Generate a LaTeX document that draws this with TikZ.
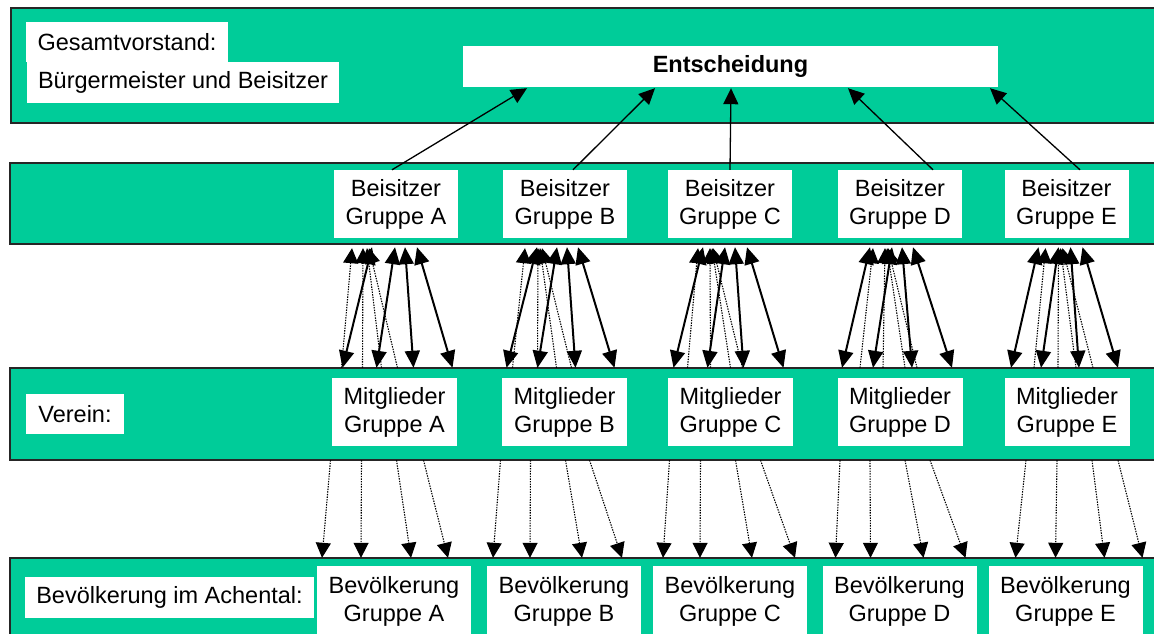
\documentclass[tikz,border=0pt]{standalone}
\usepackage{fontspec}
\setmainfont{Liberation Sans}
\usetikzlibrary{arrows.meta,calc}
\definecolor{bandgreen}{RGB}{0,204,153}
\begin{document}
\begin{tikzpicture}[x=1pt,y=-1pt,
  bandbox/.style={draw=black!85, line width=1.4pt, fill=bandgreen},
  wbox/.style={fill=white, inner sep=0pt, align=center, font=\fontsize{23.5}{28}\selectfont},
  solidarr/.style={line width=2pt, {Triangle[length=17pt,width=15pt]}-{Triangle[length=17pt,width=15pt]}},
  dotarr/.style={line width=1.1pt, dash pattern=on 1.4pt off 1.2pt, -{Triangle[length=15pt,width=15pt]}},
  toparr/.style={line width=1.3pt, -{Triangle[length=16pt,width=15pt]}}
]
\useasboundingbox (0,0) rectangle (1154,634);
\fill[white] (0,0) rectangle (1154,634);
% bands
\draw[bandbox] (11,8) rectangle (1170,123);
\draw[bandbox] (10,163) rectangle (1170,244);
\draw[bandbox] (10,368) rectangle (1170,460);
\draw[bandbox] (10,558) rectangle (1170,650);
% row labels
\node[wbox, minimum width=202pt, minimum height=40pt] (gv) at (127,42) {Gesamtvorstand:};
\node[wbox, minimum width=312pt, minimum height=41pt] (bm) at (183,82.5) {Bürgermeister und Beisitzer};
\node[wbox, minimum width=535pt, minimum height=41pt, font=\fontsize{23.5}{28}\selectfont\bfseries] (ent) at (730.5,66.5) {Entscheidung};
\node[wbox, minimum width=98pt, minimum height=40pt] (ver) at (75,414) {Verein:};
\node[wbox, minimum width=289pt, minimum height=41pt] (bev) at (169.5,597.5) {Bevölkerung im Achental:};
% group boxes
\foreach \g/\x/\mx/\px in {A/396/394.5/394, B/565/564.5/564, C/730/730.5/730, D/900/900/899.5, E/1066.5/1067/1065.5}{
  \node[wbox, minimum width=124pt, minimum height=68pt] (b\g) at (\x,204) {Beisitzer\\Gruppe \g};
  \node[wbox, minimum width=125pt, minimum height=68pt] (m\g) at (\mx,412) {Mitglieder\\Gruppe \g};
  \node[wbox, minimum width=154pt, minimum height=70pt] (p\g) at (\px,601) {Bevölkerung\\Gruppe \g};
}
% arrows to Entscheidung
\foreach \g/\s/\e in {A/-4/-203.5, B/8/-75.5, C/0/0.5, D/33/117.5, E/13.5/259.5}
  \draw[toparr] ($(b\g.north)$) ++(\s,0) -- ($(ent.south)+(\e,1)$);
% solid double arrows Beisitzer <-> Mitglieder
\foreach \g/\sa/\sb/\sc/\sd/\ea/\eb/\ec/\ed in {
  A/-24/-1/9/21/-52/-18/19/58,
  B/-28/-8/2/13/-58/-27/11/50,
  C/-27/-5/5/17/-57/-23/13/53,
  D/-30/-8/2/13/-58/-27/12/52,
  E/-28/-8/4/16/-56/-26/12/51}{
  \foreach \s/\e in {\sa/\ea, \sb/\eb, \sc/\ec, \sd/\ed}
    \draw[solidarr] ($(b\g.south)+(\s,9)$) -- ($(m\g.north)+(\e,-10)$);
}
% dotted arrows Mitglieder -> Beisitzer
\foreach \g/\sa/\sb/\sc/\sd/\ea/\eb/\ec/\ed in {
  A/-53/-32/-13/3/-44/-33/-29/-27,
  B/-52/-27/-8/7/-40/-27/-25/-23,
  C/-43/-20/0/12/-32/-20/-18/-17,
  D/-40/-17/5/17/-27/-15/-13/-12,
  E/-33/-9/9/26/-21/-8/-6/-4}{
  \foreach \s/\e in {\sa/\ea, \sb/\eb, \sc/\ec, \sd/\ed}
    \draw[dotarr] ($(m\g.north)+(\s,-10)$) -- ($(b\g.south)+(\e,10)$);
}
% dotted arrows Mitglieder -> Bevölkerung
\foreach \g/\sa/\sb/\sc/\sd/\ea/\eb/\ec/\ed in {
  A/-64/-33/2/29/-72/-33/17/54,
  B/-64/-34/1/25/-71/-34/18/58,
  C/-61/-30/5/30/-67/-30/22/65,
  D/-60/-30/5/30/-64/-29/24/66,
  E/-41/-10/25/51/-50/-10/39/77}{
  \foreach \s/\e in {\sa/\ea, \sb/\eb, \sc/\ec, \sd/\ed}
    \draw[dotarr] ($(m\g.south)+(\s,14)$) -- ($(p\g.north)+(\e,-8)$);
}
\end{tikzpicture}
\end{document}
